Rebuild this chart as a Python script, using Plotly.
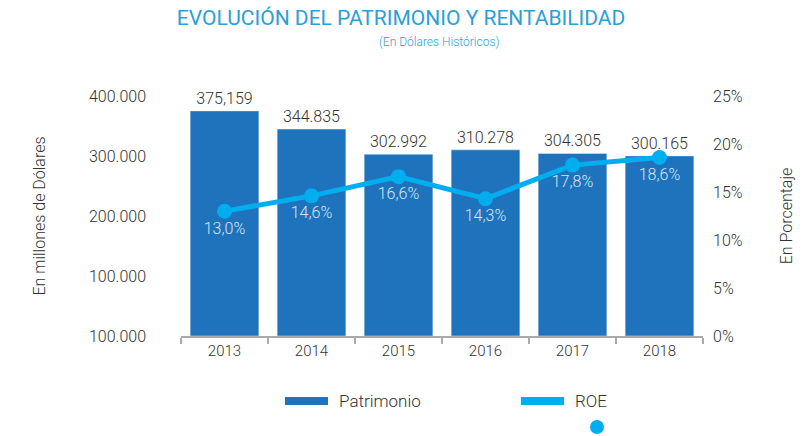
import plotly.graph_objects as go

years = ["2013", "2014", "2015", "2016", "2017", "2018"]
patrimonio = [375159, 344835, 302992, 310278, 304305, 300165]
patrimonio_labels = ["375,159", "344.835", "302.992", "310.278", "304.305", "300.165"]
roe = [13.0, 14.6, 16.6, 14.3, 17.8, 18.6]
roe_labels = ["13,0%", "14,6%", "16,6%", "14,3%", "17,8%", "18,6%"]
left_tickvals = [0, 100000, 200000, 300000, 400000]
left_ticktext = ["100.000", "100.000", "200.000", "300.000", "400.000"]
right_tickvals = [0, 5, 10, 15, 20, 25]
right_ticktext = ["0%", "5%", "10%", "15%", "20%", "25%"]

FONT = "Roboto"
W = 300
BAR = "#1f73bc"
LINE = "#00aeef"
TXT = "#333333"

fig = go.Figure()
fig.add_trace(go.Bar(
    x=years, y=patrimonio, name="Patrimonio",
    marker_color=BAR, text=patrimonio_labels, textposition="outside",
    textfont=dict(size=16, color=TXT, family=FONT, weight=W), cliponaxis=False,
    showlegend=False, hoverinfo="x+y",
))
fig.add_trace(go.Scatter(
    x=years, y=roe, name="ROE", yaxis="y2", mode="lines+markers+text",
    line=dict(color=LINE, width=5), marker=dict(color=LINE, size=15),
    text=roe_labels, textposition="bottom center",
    textfont=dict(size=16, color="#d6e6f5", family=FONT, weight=W),
    showlegend=False, cliponaxis=False,
))

fig.update_layout(
    width=807, height=436,
    margin=dict(l=181, r=104, t=96, b=100, autoexpand=False),
    paper_bgcolor="white", plot_bgcolor="white",
    font=dict(family=FONT, color=TXT, size=15, weight=W),
    bargap=0.21,
    xaxis=dict(
        showline=True, linecolor="#aaaaaa", linewidth=2,
        ticks="outside", tickson="boundaries", ticklen=6, tickwidth=2,
        tickcolor="#aaaaaa", tickfont=dict(size=15, color=TXT, weight=W),
        showgrid=False, automargin=False,
    ),
    yaxis=dict(
        range=[0, 400000], tickvals=left_tickvals, ticktext=left_ticktext,
        showgrid=False, zeroline=False, showline=False, ticks="",
        tickfont=dict(size=16, color=TXT, weight=W), ticklabelstandoff=34, automargin=False,
        title=dict(text="En millones de Dólares", font=dict(size=16, color=TXT, weight=W), standoff=39),
    ),
    yaxis2=dict(
        overlaying="y", side="right", range=[0, 25], tickvals=right_tickvals,
        ticktext=right_ticktext, showgrid=False, zeroline=False, showline=False,
        tickfont=dict(size=16, color=TXT, weight=W), ticklabelstandoff=9, automargin=False,
        title=dict(text="En Porcentaje", font=dict(size=16, color=TXT, weight=W), standoff=39),
    ),
    title=dict(
        text="EVOLUCIÓN DEL PATRIMONIO Y RENTABILIDAD",
        font=dict(size=21, color="#2a9fd8", family=FONT, weight=400),
        x=0.497, xanchor="center", y=0.96, yanchor="middle",
        automargin=False,
    ),
)

fig.add_annotation(text="(En Dólares Históricos)", xref="paper", yref="paper",
                   x=0.496, y=1.225, xanchor="center", yanchor="middle",
                   showarrow=False, font=dict(size=12, color="#2a9fd8", family=FONT, weight=W))

# custom legend
fig.add_shape(type="rect", xref="paper", yref="paper",
              x0=(285 - 181) / 522, x1=(328 - 181) / 522,
              y0=-(397 - 336) / 240, y1=-(405 - 336) / 240,
              fillcolor=BAR, line_width=0)
fig.add_annotation(text="Patrimonio", xref="paper", yref="paper",
                   x=(337 - 181) / 522, y=-(401 - 336) / 240, xanchor="left",
                   yanchor="middle", showarrow=False, font=dict(size=17, color=TXT, weight=W))
fig.add_shape(type="rect", xref="paper", yref="paper",
              x0=(521 - 181) / 522, x1=(564 - 181) / 522,
              y0=-(397 - 336) / 240, y1=-(405 - 336) / 240,
              fillcolor=LINE, line_width=0)
fig.add_annotation(text="ROE", xref="paper", yref="paper",
                   x=(573 - 181) / 522, y=-(401 - 336) / 240, xanchor="left",
                   yanchor="middle", showarrow=False, font=dict(size=17, color=TXT, weight=W))
fig.add_shape(type="circle", xref="paper", yref="paper",
              x0=(590 - 181) / 522, x1=(604 - 181) / 522,
              y0=-(420 - 336) / 240, y1=-(434 - 336) / 240,
              fillcolor=LINE, line_width=0)

fig.write_html("out.html", config={"displayModeBar": False},
               post_script="document.body.style.margin='0';")
